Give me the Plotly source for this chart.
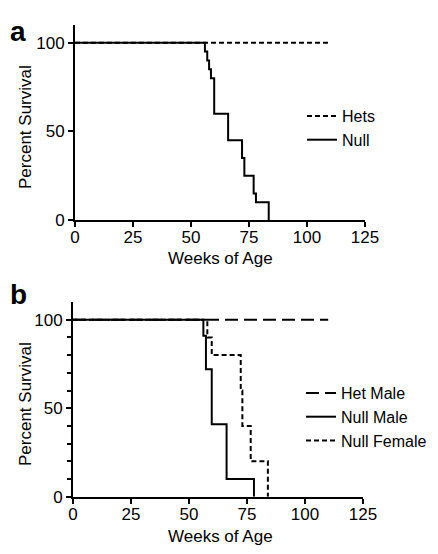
import plotly.graph_objects as go

# ---------------- data ----------------
# Panel a
weeks_hets = [0, 110]
surv_hets = [100, 100]
weeks_null = [0, 56, 57, 57.8, 58.6, 60, 66, 72, 73, 77, 78, 83.5]
surv_null = [100, 95, 90, 85, 80, 60, 45, 35, 25, 15, 10, 0]

# Panel b
weeks_het_male = [0, 110]
surv_het_male = [100, 100]
weeks_null_male = [0, 56.2, 57.3, 59.8, 66.2, 78]
surv_null_male = [100, 91, 72, 41, 10, 0]
weeks_null_female = [0, 57.9, 59.8, 72.3, 73, 76.6, 84]
surv_null_female = [100, 90, 80, 60, 40, 20, 0]

x_ticks = [0, 25, 50, 75, 100, 125]
y_ticks = [0, 50, 100]
y_minor_b = [10, 20, 30, 40, 60, 70, 80, 90]

W, H = 438, 554
OFF = 8  # page body margin
FW, FH = W - OFF, H - OFF
FONT = "Liberation Sans, Arial, Helvetica, sans-serif"

fig = go.Figure()

fig.add_trace(go.Scatter(x=weeks_hets, y=surv_hets, mode="lines", name="Hets",
                         line=dict(color="black", width=2, dash="5px,3px", shape="hv"),
                         xaxis="x", yaxis="y", legend="legend"))
fig.add_trace(go.Scatter(x=weeks_null, y=surv_null, mode="lines", name="Null",
                         line=dict(color="black", width=2, shape="hv"),
                         xaxis="x", yaxis="y", legend="legend"))

fig.add_trace(go.Scatter(x=weeks_het_male, y=surv_het_male, mode="lines", name="Het Male",
                         line=dict(color="black", width=2, dash="13px,6px", shape="hv"),
                         xaxis="x2", yaxis="y2", legend="legend2"))
fig.add_trace(go.Scatter(x=weeks_null_male, y=surv_null_male, mode="lines", name="Null Male",
                         line=dict(color="black", width=2, shape="hv"),
                         xaxis="x2", yaxis="y2", legend="legend2"))
fig.add_trace(go.Scatter(x=weeks_null_female, y=surv_null_female, mode="lines", name="Null Female",
                         line=dict(color="black", width=2, dash="5px,3px", shape="hv"),
                         xaxis="x2", yaxis="y2", legend="legend2"))

def px_x(p):
    return (p - OFF) / FW

def px_y(p):
    return 1 - (p - OFF) / FH

axis_common = dict(showline=True, linewidth=2, linecolor="black", ticks="outside",
                   ticklen=5, tickwidth=2, tickcolor="black", showgrid=False,
                   zeroline=False, automargin=False,
                   tickfont=dict(size=17, color="black", family=FONT))

fig.update_layout(
    template="none",
    width=FW, height=FH,
    margin=dict(l=0, r=0, t=0, b=0, autoexpand=False),
    paper_bgcolor="white", plot_bgcolor="white",
    font=dict(family=FONT, size=17, color="black"),
    xaxis=dict(domain=[px_x(75), px_x(365)], range=[0, 125], tickvals=x_ticks,
               anchor="y", ticklabelstandoff=-4, **axis_common),
    yaxis=dict(domain=[px_y(220), px_y(25)], range=[0, 110], tickvals=y_ticks,
               anchor="x", **axis_common),
    xaxis2=dict(domain=[px_x(73), px_x(363)], range=[0, 125], tickvals=x_ticks,
                anchor="y2", ticklabelstandoff=-4, **axis_common),
    yaxis2=dict(domain=[px_y(496.7), px_y(302)], range=[0, 110], tickvals=y_ticks,
                anchor="x2",
                minor=dict(tickvals=y_minor_b, ticks="outside", ticklen=4, tickwidth=2,
                           tickcolor="black"),
                **axis_common),
    legend=dict(x=px_x(302), y=px_y(128), xanchor="left", yanchor="middle",
                bgcolor="rgba(0,0,0,0)", borderwidth=0,
                font=dict(size=16, family=FONT, color="black")),
    legend2=dict(x=px_x(301), y=px_y(417), xanchor="left", yanchor="middle",
                 bgcolor="rgba(0,0,0,0)", borderwidth=0,
                 font=dict(size=16, family=FONT, color="black")),
    showlegend=True,
)

annos = [
    dict(text="<b>a</b>", x=px_x(8), y=px_y(32), xanchor="left", yanchor="middle",
         font=dict(size=28)),
    dict(text="<b>b</b>", x=px_x(8), y=px_y(294), xanchor="left", yanchor="middle",
         font=dict(size=28)),
    dict(text="Percent Survival", x=px_x(25), y=px_y(127), textangle=-90,
         xanchor="center", yanchor="middle"),
    dict(text="Percent Survival", x=px_x(25), y=px_y(404), textangle=-90,
         xanchor="center", yanchor="middle"),
    dict(text="Weeks of Age", x=px_x(220), y=px_y(259), xanchor="center", yanchor="middle"),
    dict(text="Weeks of Age", x=px_x(220), y=px_y(536), xanchor="center", yanchor="middle"),
]
for a in annos:
    a.update(xref="paper", yref="paper", showarrow=False)
    a.setdefault("font", {})
    a["font"] = dict(family=FONT, color="black", size=a["font"].get("size", 17))
    fig.add_annotation(**a)

fig.write_html("out.html")
